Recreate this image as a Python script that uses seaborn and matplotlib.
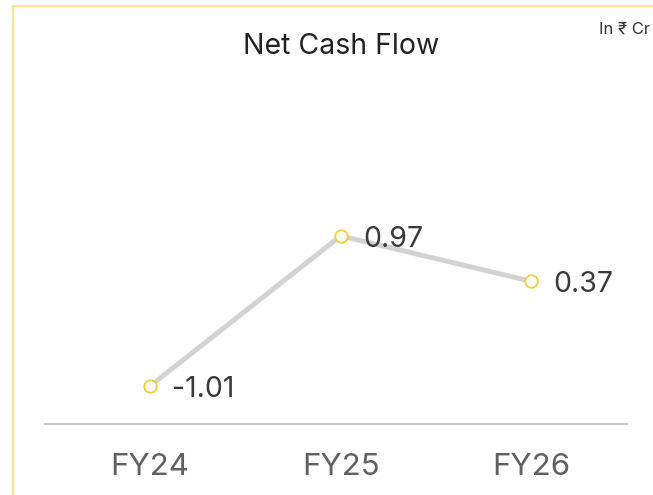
import numpy as np
import pandas as pd
import matplotlib.pyplot as plt
import seaborn as sns
from matplotlib.lines import Line2D

years = ['FY24', 'FY25', 'FY26']
net_cash = [-1.01, 0.97, 0.37]
value_labels = ['-1.01', '0.97', '0.37']

df = pd.DataFrame({'pos': np.arange(len(years)), 'Value': net_cash})

sns.set_theme(style='white')
plt.rcParams['font.family'] = ['Inter', 'DejaVu Sans']

fig = plt.figure(figsize=(6.53, 4.95), dpi=100)
ax = fig.add_axes([0.069, 0.1434, 0.891, 0.7356])

sns.lineplot(data=df, x='pos', y='Value', ax=ax, color='#d3d3d3', linewidth=3.6,
             marker='o', markersize=9, markerfacecolor='white',
             markeredgecolor='#f7cf3d', markeredgewidth=1.4)

for i, (v, lab) in enumerate(zip(net_cash, value_labels)):
    ax.annotate(lab, (i, v), xytext=(16, -2.5), textcoords='offset points',
                va='center', ha='left', fontsize=20.5, color='#3a3a3a')

ax.set_xlim(-0.55, 2.5)
ax.set_ylim(-1.51, 3.29)
ax.set_xticks(df['pos'])
ax.set_xticklabels(years, fontsize=22.5, color='#606060')
ax.tick_params(axis='x', length=0, pad=21)
ax.set_yticks([])
ax.set_xlabel('')
ax.set_ylabel('')
for s in ['top', 'right', 'left']:
    ax.spines[s].set_visible(False)
ax.spines['bottom'].set_color('#c8c8c8')
ax.spines['bottom'].set_linewidth(1.5)

fig.text(0.522, 0.906, 'Net Cash Flow', ha='center', va='center',
         fontsize=20.5, color='#222222')
fig.text(0.996, 0.941, 'In ₹ Cr', ha='right', va='center',
         fontsize=12, color='#333333')

# yellow card border (top and left)
fig.add_artist(Line2D([0.02, 1.0], [0.988, 0.988], color='#ffe38a', linewidth=1.5,
                      transform=fig.transFigure))
fig.add_artist(Line2D([0.02, 0.02], [0.0, 0.988], color='#ffe38a', linewidth=1.5,
                      transform=fig.transFigure))

fig.savefig('out.png', dpi=100)
